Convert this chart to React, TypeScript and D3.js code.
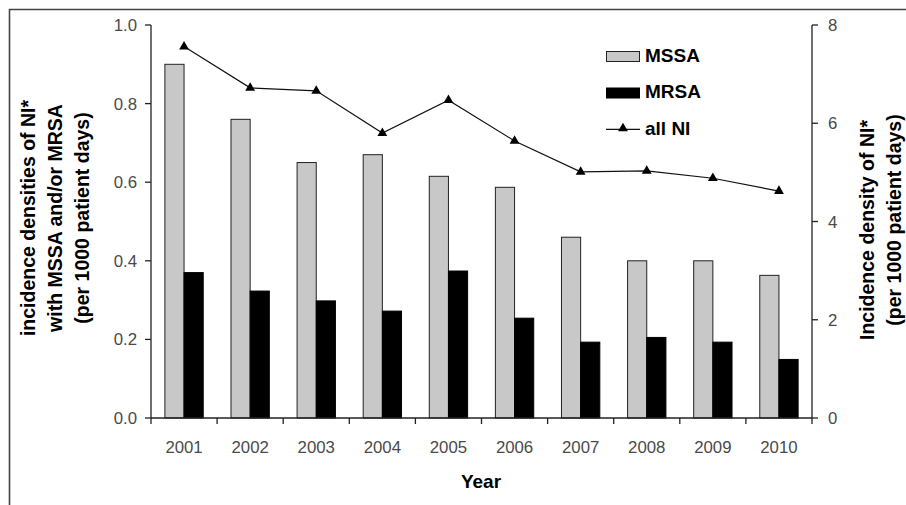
import React from "react";
import * as d3 from "d3";

const years = ["2001","2002","2003","2004","2005","2006","2007","2008","2009","2010"];
const mssa = [0.90,0.76,0.65,0.67,0.615,0.587,0.46,0.40,0.40,0.363];
const mrsa = [0.37,0.323,0.298,0.272,0.374,0.254,0.193,0.205,0.193,0.149];
const allNI = [7.56,6.72,6.66,5.80,6.47,5.64,5.01,5.03,4.88,4.62];
const leftTicks = [0,0.2,0.4,0.6,0.8,1.0];
const rightTicks = [0,2,4,6,8];

const W = 906, H = 505;
const x0 = 151, x1 = 812, yTop = 25, yBot = 418;

export default function App() {
  const x = d3.scaleBand<string>().domain(years).range([x0, x1]).paddingInner(0).paddingOuter(0);
  const yL = d3.scaleLinear().domain([0, 1]).range([yBot, yTop]);
  const yR = d3.scaleLinear().domain([0, 8]).range([yBot, yTop]);
  const bw = x.bandwidth();
  const barW = bw * 0.29;
  const line = d3.line<number>().x((_, i) => x(years[i])! + bw / 2).y(d => yR(d));
  const tri = d3.symbol().type(d3.symbolTriangle).size(42)()!;
  const font = "'Liberation Sans', Arial, Helvetica, sans-serif";
  const tickColor = "#4a4a4a";
  const tfs = 16.8;
  return (
    <svg width={W} height={H} style={{ position: "absolute", left: 0, top: 0, fontFamily: font }}>
      <rect x={0} y={0} width={W} height={H} fill="#fff" />
      <path d={`M9.5,${H}V9.5H${W}`} fill="none" stroke="#444" strokeWidth={1.6} />
      {years.map((yr, i) => {
        const cx = x(yr)! + bw / 2;
        return (
          <g key={yr}>
            <rect x={cx - barW} y={yL(mssa[i])} width={barW} height={yBot - yL(mssa[i])} fill="#c8c8c8" stroke="#222" strokeWidth={1} />
            <rect x={cx} y={yL(mrsa[i])} width={barW} height={yBot - yL(mrsa[i])} fill="#000" stroke="#000" strokeWidth={1} />
            <text x={cx} y={453} textAnchor="middle" fontSize={tfs} fill={tickColor}>{yr}</text>
          </g>
        );
      })}
      {/* x axis */}
      <line x1={x0} x2={x1} y1={yBot} y2={yBot} stroke="#222" strokeWidth={1.3} />
      {[...years.map(y => x(y)!), x1].map((t, i) => (
        <line key={i} x1={t} x2={t} y1={yBot} y2={yBot + 6} stroke="#222" strokeWidth={1.3} />
      ))}
      {/* left axis */}
      <line x1={x0} x2={x0} y1={yTop} y2={yBot} stroke="#222" strokeWidth={1.3} />
      {leftTicks.map(t => (
        <g key={t}>
          <line x1={x0 - 6} x2={x0} y1={yL(t)} y2={yL(t)} stroke="#222" strokeWidth={1.3} />
          <text x={137} y={yL(t) + 6} textAnchor="end" fontSize={tfs} fill={tickColor}>{t.toFixed(1)}</text>
        </g>
      ))}
      {/* right axis */}
      <line x1={x1} x2={x1} y1={yTop} y2={yBot} stroke="#222" strokeWidth={1.3} />
      {rightTicks.map(t => (
        <g key={t}>
          <line x1={x1} x2={x1 + 6} y1={yR(t)} y2={yR(t)} stroke="#222" strokeWidth={1.3} />
          <text x={828} y={yR(t) + 6} textAnchor="start" fontSize={tfs} fill={tickColor}>{t}</text>
        </g>
      ))}
      {/* line */}
      <path d={line(allNI)!} fill="none" stroke="#111" strokeWidth={1.2} />
      {allNI.map((v, i) => (
        <path key={i} d={tri} transform={`translate(${x(years[i])! + bw / 2},${yR(v)})`} fill="#000" />
      ))}
      {/* axis titles */}
      <g transform="translate(0,218) rotate(-90)" fontWeight="bold" fontSize={19.5} fill="#000" textAnchor="middle">
        <text x={0} y={35}>incidence densities of NI*</text>
        <text x={0} y={62}>with MSSA and/or MRSA</text>
        <text x={0} y={89}>(per 1000 patient days)</text>
      </g>
      <g transform="rotate(-90)" fontWeight="bold" fontSize={19.5} fill="#000" textAnchor="middle">
        <text x={-230} y={874}>Incidence density of NI*</text>
        <text x={-220} y={901}>(per 1000 patient days)</text>
      </g>
      <text x={481} y={488} textAnchor="middle" fontWeight="bold" fontSize={19} fill="#000">Year</text>
      {/* legend */}
      <rect x={606.5} y={51.5} width={33} height={10} fill="#c8c8c8" stroke="#222" strokeWidth={1} />
      <text x={645} y={62} fontWeight="bold" fontSize={19}>MSSA</text>
      <rect x={606} y={87.5} width={34} height={11} fill="#000" />
      <text x={645} y={98.3} fontWeight="bold" fontSize={19}>MRSA</text>
      <line x1={606} x2={640} y1={129.3} y2={129.3} stroke="#111" strokeWidth={1.2} />
      <path d={tri} transform="translate(623,128.5)" fill="#000" />
      <text x={645} y={134.5} fontWeight="bold" fontSize={19}>all NI</text>
    </svg>
  );
}
